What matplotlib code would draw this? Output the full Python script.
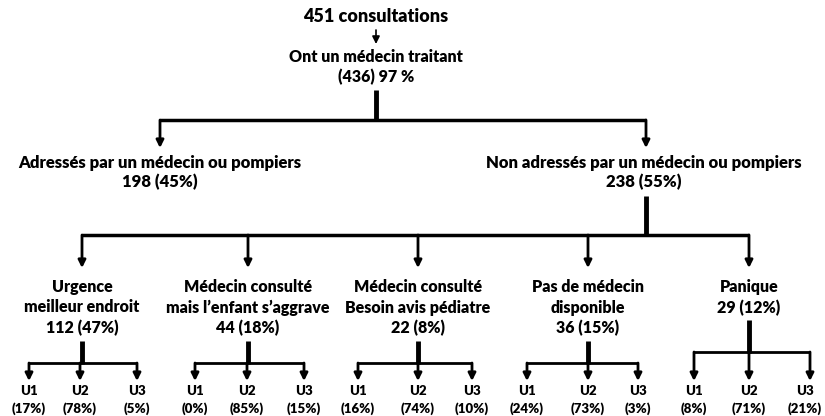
import matplotlib.pyplot as plt

plt.rcParams['font.family'] = ['Lato', 'DejaVu Sans']

total = 451
mt_n, mt_pct = 436, "97 %"
level1 = ["Adressés par un médecin ou pompiers", "Non adressés par un médecin ou pompiers"]
level1_n = [198, 238]
level1_pct = [45, 55]
level2 = [["Urgence", "meilleur endroit"], ["Médecin consulté", "mais l’enfant s’aggrave"],
          ["Médecin consulté", "Besoin avis pédiatre"], ["Pas de médecin", "disponible"], ["Panique"]]
level2_n = [112, 44, 22, 36, 29]
level2_pct = [47, 18, 8, 15, 12]
units = ["U1", "U2", "U3"]
unit_pct = [[17, 78, 5], [0, 85, 15], [16, 74, 10], [24, 73, 3], [8, 71, 21]]

fig = plt.figure(figsize=(8.25, 4.16), dpi=100)
ax = fig.add_axes([0, 0, 1, 1])
ax.set_xlim(0, 825)
ax.set_ylim(416, 0)
ax.axis('off')

W = 'heavy'

def line(xs, ys, lw=2.0):
    ax.plot(xs, ys, color='black', lw=lw, solid_capstyle='butt')

def arrow(x, y0, y1, lw=2.0):
    ax.annotate('', xy=(x, y1), xytext=(x, y0),
                arrowprops=dict(arrowstyle='-|>', color='black', lw=lw,
                                mutation_scale=11, shrinkA=0, shrinkB=0))

def label(x, y, s, size=11.5):
    ax.text(x, y, s, ha='center', va='center', fontsize=size, fontweight=W)

# top
label(376, 17, f"{total} consultations", size=13)
arrow(376, 30, 44, lw=1.2)
label(376, 57, "Ont un médecin traitant")
label(376, 77, f"({mt_n}) {mt_pct}")
line([376, 376], [90, 121], lw=3.5)
line([160, 646], [120, 120], lw=2.5)

# level 1
l1x = [160, 644]
for i, x0 in enumerate([160, 646]):
    arrow(x0, 120, 148)
    label(l1x[i], 163, level1[i], size=12)
    label(l1x[i], 182, f"{level1_n[i]} ({level1_pct[i]}%)", size=12)

# level 2
line([646, 646], [196, 236], lw=3.5)
l2x = [82, 248, 418, 588, 749]
line([l2x[0], l2x[-1]], [235, 235], lw=2.5)
sub_dx = [[-53, -2, 55], [-53, -1, 56], [-60, 0, 54], [-61, 0, 50], [-55, 0, 61]]
for i, x in enumerate(l2x):
    arrow(x, 235, 268)
    rows = level2[i] + [f"{level2_n[i]} ({level2_pct[i]}%)"]
    for k, r in enumerate(rows):
        label(x, 287 + k * 20.5, r)
    if len(rows) == 3:
        top, bar = 341, 363
    else:
        top, bar = 320, 352
    xs = [x + d for d in sub_dx[i]]
    line([x, x], [top, bar + 1], lw=3.5)
    line([xs[0], xs[2]], [bar, bar], lw=2.0)
    for j, sx in enumerate(xs):
        arrow(sx, bar, 381)
        lx = min(sx, 805)
        label(lx, 391, units[j], size=9.5)
        label(lx, 409, f"({unit_pct[i][j]}%)", size=9.5)

fig.savefig("out.png", dpi=100)
